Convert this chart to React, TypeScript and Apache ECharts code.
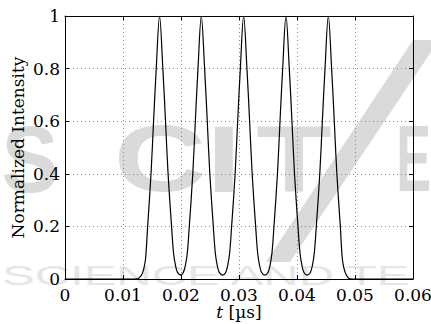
import React, { useEffect, useRef } from "react";
import * as echarts from "echarts";

// time axis (µs) and normalized intensity
const timeUs: number[] = [
  0, 0.0100, 0.0120, 0.0127, 0.0132, 0.0136, 0.0139, 0.01425, 0.01483, 0.01527, 0.01573, 0.0163,
  0.01687, 0.01733, 0.01777, 0.01837, 0.01871, 0.01906, 0.0194, 0.0200,
  0.0204, 0.02074, 0.02109, 0.02143, 0.02203, 0.02247, 0.02293, 0.0235,
  0.02407, 0.02453, 0.02497, 0.02557, 0.02591, 0.02626, 0.0266, 0.0272,
  0.0277, 0.02804, 0.02839, 0.02873, 0.02933, 0.02977, 0.03023, 0.0308,
  0.03137, 0.03183, 0.03227, 0.03287, 0.03321, 0.03356, 0.0339, 0.03445,
  0.035, 0.03534, 0.03569, 0.03603, 0.03663, 0.03707, 0.03753, 0.0381,
  0.03867, 0.03913, 0.03957, 0.04017, 0.04051, 0.04086, 0.0412, 0.04175,
  0.0423, 0.04264, 0.04299, 0.04333, 0.04393, 0.04437, 0.04483, 0.0454,
  0.04597, 0.04643, 0.04687, 0.04747, 0.0478, 0.0481, 0.0485, 0.0489, 0.0495, 0.06,
];
const intensity: number[] = [
  0, 0, 0, 0.003, 0.015, 0.04, 0.08, 0.2, 0.4, 0.6, 0.8, 1,
  0.8, 0.6, 0.4, 0.2, 0.1, 0.05, 0.025, 0.015,
  0.025, 0.05, 0.1, 0.2, 0.4, 0.6, 0.8, 1,
  0.8, 0.6, 0.4, 0.2, 0.1, 0.05, 0.025, 0.015,
  0.025, 0.05, 0.1, 0.2, 0.4, 0.6, 0.8, 1,
  0.8, 0.6, 0.4, 0.2, 0.1, 0.05, 0.025, 0.015,
  0.025, 0.05, 0.1, 0.2, 0.4, 0.6, 0.8, 1,
  0.8, 0.6, 0.4, 0.2, 0.1, 0.05, 0.025, 0.015,
  0.025, 0.05, 0.1, 0.2, 0.4, 0.6, 0.8, 1,
  0.8, 0.6, 0.4, 0.2, 0.08, 0.04, 0.015, 0.003, 0, 0,
];
const xTicks = { min: 0, max: 0.06, interval: 0.01 };
const yTicks = { min: 0, max: 1, interval: 0.2 };
const yLabel = "Normalized Intensity";
const xLabelVar = "t";
const xLabelUnit = " [µs]";
const watermarkBig = ["S", "C", "I", "T", "E"];
const watermarkSmall = "SCIENCE AND TE";

const SERIF = "DejaVu Serif";

export default function App() {
  const ref = useRef<HTMLDivElement>(null);
  useEffect(() => {
    if (!ref.current) return;
    const chart = echarts.init(ref.current, undefined, { renderer: "svg" });
    const data = timeUs.map((t, i) => [t, intensity[i]]);
    const bigX = [30, 160, 224, 294, 431];
    const bigAlign = ["center", "center", "center", "center", "right"];
    const bigScale = [0.9, 1.35, 1.3, 1.3, 0.55];
    const wmColor = "#dadada";
    const graphic: any[] = [
      ...watermarkBig.map((ch, i) => ({
        type: "text",
        x: bigX[i],
        y: 206,
        scaleX: bigScale[i],
        z: -10,
        silent: true,
        style: {
          text: ch,
          fill: wmColor,
          fontFamily: "Liberation Sans",
          fontWeight: "bold",
          fontSize: 95,
          textAlign: bigAlign[i],
          textVerticalAlign: "bottom",
        },
      })),
      {
        type: "polygon",
        z: -10,
        silent: true,
        shape: { points: [[413, 40], [431, 40], [431, 52], [290, 262], [266, 262]] },
        style: { fill: wmColor },
      },
      {
        type: "text",
        x: 2,
        y: 289,
        scaleX: 1.75,
        z: -10,
        silent: true,
        style: {
          text: watermarkSmall,
          fill: "#e6e6e6",
          fontFamily: "Liberation Sans",
          fontSize: 28,
          textAlign: "left",
          textVerticalAlign: "bottom",
        },
      },
    ];
    const tickFmt = (v: number) => String(+v.toFixed(2));
    chart.setOption({
      animation: false,
      backgroundColor: "#ffffff",
      textStyle: { fontFamily: SERIF },
      graphic,
      grid: {
        left: 65,
        right: 18,
        top: 16,
        bottom: 45,
        containLabel: false,
        outerBoundsMode: "none",
      },
      xAxis: [
        {
          type: "value",
          ...xTicks,
          position: "bottom",
          axisLine: { show: true, onZero: false, lineStyle: { color: "#000", width: 1 } },
          axisTick: { show: true, inside: true, length: 4, lineStyle: { color: "#000" } },
          axisLabel: { color: "#000", fontFamily: SERIF, fontSize: 17, margin: 7, formatter: tickFmt },
          splitLine: { show: true, lineStyle: { color: "#888", type: [1, 3], width: 1 } },
          name: `{i|${xLabelVar}}${xLabelUnit}`,
          nameLocation: "middle",
          nameGap: 24,
          nameMoveOverlap: false,
          nameTextStyle: {
            color: "#000",
            fontFamily: SERIF,
            fontSize: 17,
            lineHeight: 18,
            rich: { i: { fontStyle: "italic", fontFamily: SERIF, fontSize: 17, lineHeight: 18, color: "#000" } },
          },
        },
        {
          type: "value",
          ...xTicks,
          position: "top",
          axisLine: { show: true, onZero: false, lineStyle: { color: "#000", width: 1 } },
          axisTick: { show: true, inside: true, length: 4, lineStyle: { color: "#000" } },
          axisLabel: { show: false },
          splitLine: { show: false },
        },
      ],
      yAxis: [
        {
          type: "value",
          ...yTicks,
          position: "left",
          axisLine: { show: true, onZero: false, lineStyle: { color: "#000", width: 1 } },
          axisTick: { show: true, inside: true, length: 4, lineStyle: { color: "#000" } },
          axisLabel: { color: "#000", fontFamily: SERIF, fontSize: 17, margin: 5, formatter: tickFmt },
          splitLine: { show: true, lineStyle: { color: "#888", type: [1, 3], width: 1 } },
          name: yLabel,
          nameLocation: "middle",
          nameGap: 39,
          nameMoveOverlap: false,
          nameTextStyle: { color: "#000", fontFamily: SERIF, fontSize: 17 },
        },
        {
          type: "value",
          ...yTicks,
          position: "right",
          axisLine: { show: true, onZero: false, lineStyle: { color: "#000", width: 1 } },
          axisTick: { show: true, inside: true, length: 4, lineStyle: { color: "#000" } },
          axisLabel: { show: false },
          splitLine: { show: false },
        },
      ],
      series: [
        {
          type: "line",
          data,
          xAxisIndex: 0,
          yAxisIndex: 0,
          smooth: 0.35,
          symbol: "none",
          lineStyle: { color: "#000", width: 1.2 },
        },
      ],
    });
    return () => chart.dispose();
  }, []);
  return (
    <div
      ref={ref}
      style={{ position: "absolute", left: 0, top: 0, width: 431, height: 324 }}
    />
  );
}
